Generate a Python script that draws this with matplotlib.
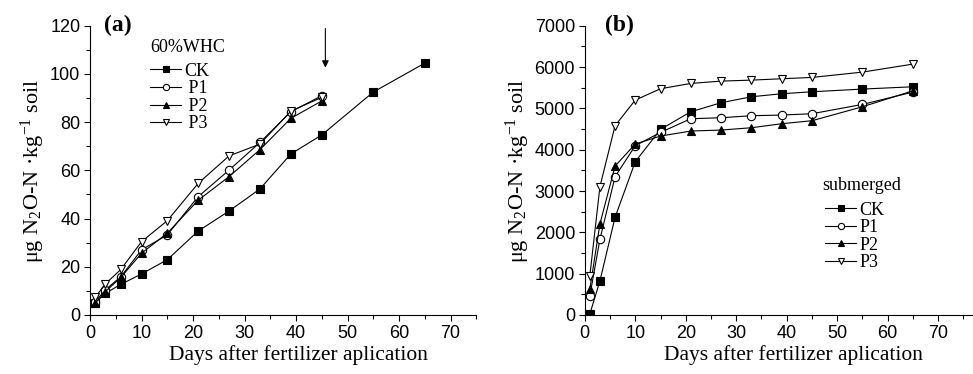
import matplotlib
matplotlib.use("Agg")
import matplotlib.pyplot as plt

days_a = [1, 3, 6, 10, 15, 21, 27, 33, 39, 45]
days_ck_a = [1, 3, 6, 10, 15, 21, 27, 33, 39, 45, 55, 65]
ck_a = [5.1, 9.0, 12.7, 17.0, 22.9, 34.8, 43.1, 52.3, 66.8, 74.7, 92.5, 104.5]
p1_a = [5.5, 10.4, 15.9, 27.0, 33.2, 49.1, 60.1, 71.6, 84.3, 91.0]
p2_a = [4.8, 9.7, 15.6, 25.6, 33.9, 47.6, 57.4, 68.6, 81.6, 88.8]
p3_a = [7.3, 12.9, 18.9, 30.4, 39.1, 54.6, 66.0, 70.9, 84.6, 90.3]

days_b = [1, 3, 6, 10, 15, 21, 27, 33, 39, 45, 55, 65]
ck_b = [20, 823, 2363, 3710, 4492, 4919, 5137, 5282, 5355, 5403, 5468, 5524]
p1_b = [460, 1830, 3347, 4097, 4419, 4750, 4774, 4823, 4839, 4871, 5097, 5395]
p2_b = [620, 2202, 3605, 4137, 4331, 4452, 4476, 4532, 4629, 4702, 5040, 5427]
p3_b = [944, 3105, 4581, 5202, 5476, 5605, 5661, 5685, 5718, 5750, 5879, 6073]

labels = ["CK", "P1", "P2", "P3"]
labels_a = ["CK", " P1", " P2", " P3"]
markers = ["s", "o", "^", "v"]
faces = ["black", "white", "black", "white"]

serif = "Liberation Serif"
sans = "Liberation Sans"
ylab = "\u03bcg N$_2$O-N \u00b7kg$^{-1}$ soil"

plt.rcParams["mathtext.fontset"] = "custom"
plt.rcParams["mathtext.rm"] = serif
plt.rcParams["mathtext.it"] = serif + ":italic"

fig = plt.figure(figsize=(9.73, 3.74), dpi=100)
axa = fig.add_axes([0.0925, 0.158, 0.397, 0.773])
axb = fig.add_axes([0.601, 0.158, 0.398, 0.773])


def style(ax, ymax, ymajor, yminor):
    for s in ["top", "right"]:
        ax.spines[s].set_visible(False)
    ax.set_xlim(0, 75)
    ax.set_ylim(0, ymax)
    ax.set_xticks(range(0, 71, 10))
    ax.set_xticks(range(5, 76, 10), minor=True)
    ax.set_yticks(range(0, ymax + 1, ymajor))
    ax.set_yticks(range(yminor, ymax, ymajor), minor=True)
    ax.tick_params(which="both", direction="out", width=0.8)
    ax.tick_params(which="major", length=4, labelsize=13, pad=3)
    ax.tick_params(which="minor", length=3)
    for t in ax.get_xticklabels() + ax.get_yticklabels():
        t.set_fontfamily(sans)
    ax.set_xlabel("Days after fertilizer aplication", fontfamily=serif, fontsize=15.5)
    ax.xaxis.set_label_coords(0.54, -0.138)
    ax.xaxis.label.set_va("center")
    ax.set_ylabel(ylab, fontfamily=serif, fontsize=16, labelpad=2)


def draw(ax, series, labs):
    for (x, y), m, f, l in zip(series, markers, faces, labs):
        ax.plot(x, y, marker=m, mfc=f, mec="black", color="black", lw=0.8, ms=6, mew=0.8, label=l)


series_a = [(days_ck_a, ck_a), (days_a, p1_a), (days_a, p2_a), (days_a, p3_a)]
draw(axa, series_a, labels_a)
style(axa, 120, 20, 10)

series_b = [(days_b, ck_b), (days_b, p1_b), (days_b, p2_b), (days_b, p3_b)]
draw(axb, series_b, labels)
style(axb, 7000, 1000, 500)
axb.set_xlim(0, 76.7)

for ax, txt, xx in [(axa, "(a)", 0.035), (axb, "(b)", 0.052)]:
    ax.text(xx, 1.0, txt, transform=ax.transAxes, fontfamily=serif, fontweight="bold",
            fontsize=17, va="center", ha="left")

leg_kw = dict(loc="upper left", frameon=False, handlelength=1.75, handletextpad=0.15,
              labelspacing=0.03, borderpad=0, borderaxespad=0, markerscale=0.75,
              prop={"family": serif, "size": 13})
axa.legend(bbox_to_anchor=(0.155, 0.872), **leg_kw)
axa.text(0.155, 0.926, "60%WHC", transform=axa.transAxes, fontfamily=serif, fontsize=13,
         va="center", ha="left")
axb.legend(bbox_to_anchor=(0.620, 0.392), **leg_kw)
axb.text(0.612, 0.449, "submerged", transform=axb.transAxes, fontfamily=serif, fontsize=13,
         va="center", ha="left")

axa.annotate("", xy=(45.7, 101.5), xytext=(45.7, 120),
             arrowprops=dict(arrowstyle="-|>", color="black", lw=0.8, mutation_scale=10))

fig.savefig("out.png", dpi=100)
